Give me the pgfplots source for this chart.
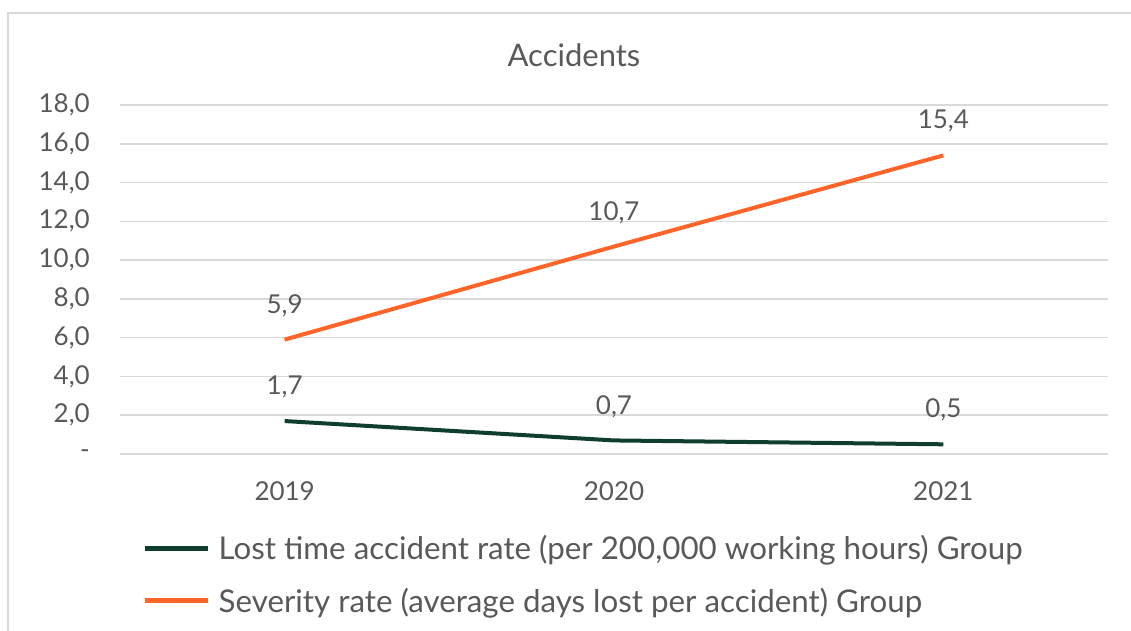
\documentclass[border=0pt]{standalone}
\usepackage{fontspec}
\setmainfont{Lato}
\usepackage{pgfplots}
\pgfplotsset{compat=1.18}
\definecolor{dkgreen}{HTML}{0F3D2E}
\definecolor{orng}{HTML}{FF6428}
\definecolor{gridc}{HTML}{D9D9D9}
\definecolor{txt}{HTML}{595959}
\definecolor{frame}{HTML}{D9D9D9}
\begin{document}
\begin{tikzpicture}
\path[use as bounding box] (0,0) rectangle (1131pt,630pt);
\draw[frame, line width=2pt] (8pt,-20pt) -- (8pt,617pt) -- (1150pt,617pt);
\begin{axis}[
  at={(120pt,176pt)}, anchor=south west,
  scale only axis, width=988pt, height=349pt,
  xmin=-0.5, xmax=2.5, ymin=0, ymax=18,
  xtick={0,1,2}, xticklabels={2019,2020,2021},
  ytick={0,2,...,18},
  yticklabels={-,{2,0},{4,0},{6,0},{8,0},{10,0},{12,0},{14,0},{16,0},{18,0}},
  axis line style={draw=none},
  major tick length=0pt,
  ymajorgrids, grid style={gridc, line width=1.5pt},
  tick label style={font=\fontsize{26}{30}\selectfont, text=txt},
  yticklabel style={inner sep=0pt, anchor=east, xshift=-30pt},
  xticklabel style={inner sep=0pt, anchor=north, yshift=-27pt},
  /pgf/number format/assume math mode=true,
  /pgf/number format/.cd, use comma, fixed, fixed zerofill, precision=1, /pgfplots/.cd,
  title={Accidents},
  title style={at={(0.4595,1)}, anchor=center, yshift=44pt, font=\fontsize{31}{36}\selectfont, text=txt},
  nodes near coords,
  every node near coord/.append style={anchor=center, yshift=34pt, font=\fontsize{26}{30}\selectfont, text=txt},
  legend style={draw=none, fill=none, inner sep=0pt, at={(axis description cs:0.0223,-0.345)}, anchor=west,
    font=\fontsize{31.3}{36}\selectfont, text=txt, row sep=27pt,
    nodes={inner sep=0pt, anchor=west}},
  legend cell align=left,
  legend image code/.code={\draw[#1, line width=5pt] (0pt,0pt) -- (63pt,0pt); \path (72pt,0pt);},
]
\addplot[dkgreen, line width=4pt] coordinates {(0,1.7) (1,0.7) (2,0.5)};
\addlegendentry{Lost time accident rate (per 200,000 working hours) Group}
\addplot[orng, line width=4pt] coordinates {(0,5.9) (1,10.7) (2,15.4)};
\addlegendentry{Severity rate (average days lost per accident) Group}
\end{axis}
\end{tikzpicture}
\end{document}
